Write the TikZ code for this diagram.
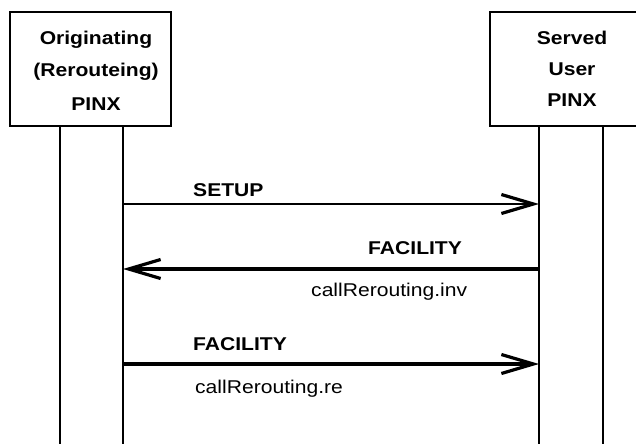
\documentclass[tikz,border=0pt]{standalone}
\usepackage{fontspec}
\newfontfamily\lab[FakeStretch=1.14]{Liberation Sans}
\usetikzlibrary{arrows.meta}
\tikzset{
  ent/.style={draw, line width=2pt},
  life/.style={line width=2pt},
  hdr/.style={font=\lab\fontsize{18.5}{31}\selectfont\bfseries, align=center, inner sep=0pt},
  msgname/.style={font=\lab\fontsize{18.5}{20}\selectfont\bfseries, inner sep=0pt, anchor=west},
  msgparam/.style={font=\lab\fontsize{18.5}{20}\selectfont, inner sep=0pt, anchor=west},
  tip/.style={-{Straight Barb[length=32pt, width=19pt, line width=3.2pt]}},
  thin/.style={line width=1.6pt, tip},
  thick/.style={line width=3.4pt, tip},
}
\begin{document}
\begin{tikzpicture}[x=1pt, y=-1pt]
\useasboundingbox (0,0) rectangle (636,444);
% entity boxes
\draw[ent] (10,12) rectangle (171,126);
\draw[ent] (490,12) rectangle (660,126);
\node[hdr] (o1) at (96,40) {Originating};
\node[hdr] (o2) at (96,72) {(Rerouteing)};
\node[hdr] (o3) at (96,104) {PINX};
\node[hdr] (s1) at (572,38) {Served};
\node[hdr] (s2) at (572,69) {User};
\node[hdr] (s3) at (572,100) {PINX};
% lifelines
\coordinate (a1) at (60,126);  \coordinate (a1e) at (60,444);
\coordinate (a2) at (123,126); \coordinate (a2e) at (123,444);
\coordinate (b1) at (539,126); \coordinate (b1e) at (539,444);
\coordinate (b2) at (603,126); \coordinate (b2e) at (603,444);
\draw[life] (a1) -- (a1e);
\draw[life] (a2) -- (a2e);
\draw[life] (b1) -- (b1e);
\draw[life] (b2) -- (b2e);
% messages
\coordinate (m1s) at (123,204); \coordinate (m1e) at (539,204);
\coordinate (m2s) at (539,269); \coordinate (m2e) at (123,269);
\coordinate (m3s) at (123,364); \coordinate (m3e) at (539,364);
\draw[thin] (m1s) -- (m1e);
\draw[thick] (m2s) -- (m2e);
\draw[thick] (m3s) -- (m3e);
\node[msgname] (l1) at (193,190) {SETUP};
\node[msgname] (l2) at (368,248) {FACILITY};
\node[msgparam] (p2) at (311,292) {callRerouting.inv};
\node[msgname] (l3) at (193,344) {FACILITY};
\node[msgparam] (p3) at (195,389) {callRerouting.re};
\end{tikzpicture}
\end{document}
